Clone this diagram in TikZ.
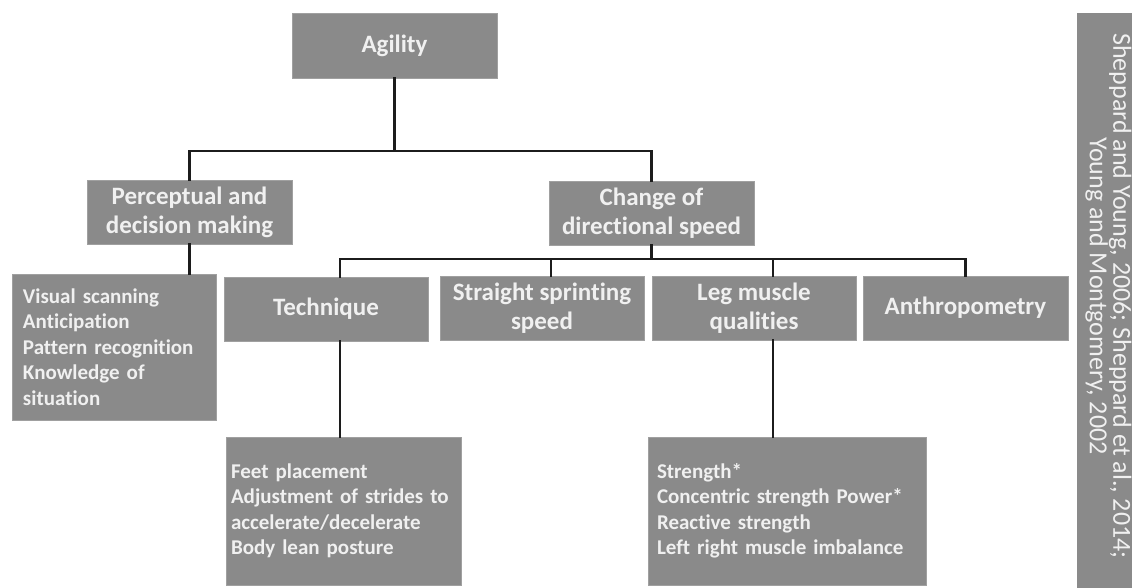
\documentclass[tikz,border=0pt]{standalone}
\usepackage{fontspec}
\setmainfont{Carlito}[Ligatures=CommonOff]
\definecolor{boxgray}{RGB}{138,138,138}
\definecolor{boxedge}{RGB}{160,160,160}
\definecolor{boxtext}{RGB}{240,240,240}
\definecolor{linecol}{RGB}{28,28,28}
\tikzset{
  box/.style={fill=boxgray, draw=boxedge, line width=0.6pt, text=boxtext,
    font=\bfseries\fontsize{25}{29}\selectfont, align=center, inner sep=0pt,
    minimum width=204, minimum height=64},
  listbox/.style={box, font=\bfseries\fontsize{21}{25.5}\selectfont, align=left},
  link/.style={draw=linecol, line width=2.3pt, line cap=rect}
}
\begin{document}
\begin{tikzpicture}[x=1pt,y=-1pt]
\useasboundingbox (0,0) rectangle (1132,588);
\fill[white] (0,0) rectangle (1132,588);

% top level
\node[box, minimum width=205, minimum height=65] (agility) at (394.5,45.5) {Agility};

% second level
\node[box, minimum width=205] (percep) at (189.5,212) {Perceptual and\\decision making};
\node[box, minimum width=205] (cods) at (651.5,213) {Change of\\directional speed};

% third level
\node[listbox, minimum height=146, text width=182, inner xsep=11] (visual) at (114,347)
  {Visual scanning\\Anticipation\\Pattern recognition\\Knowledge of\\situation};
\node[box] (technique) at (326,309) {Technique};
\node[box] (straight) at (542,308) {Straight sprinting\\speed};
\node[box] (leg) at (754,308) {Leg muscle\\qualities};
\node[box, minimum width=205] (anthro) at (965.5,308) {Anthropometry};

% fourth level
\node[listbox, minimum height=148, text width=225, inner xsep=5] (feet) at (343.5,511)
  {Feet placement\\Adjustment of strides to\\accelerate/decelerate\\Body lean posture};
\node[listbox, minimum height=148, text width=260, inner xsep=9] (strength) at (787,511)
  {Strength*\\Concentric strength Power*\\Reactive strength\\Left right muscle imbalance};

% source panel
\fill[boxgray] (1077,13) rectangle (1132,588);
\node[rotate=-90, text=boxtext, align=center, inner sep=0pt,
      font=\fontsize{26}{20}\selectfont] (source) at (1108.5,296)
  {Sheppard and Young, 2006; Sheppard et al., 2014;\\Young and Montgomery, 2002};

% junction points and stems
\coordinate (j1) at (393,151);
\coordinate (j2) at (652,259);
\coordinate (ts) at ([xshift=14]technique.north);
\coordinate (ss) at ([xshift=9]straight.north);
\coordinate (ls) at ([xshift=19]leg.north);

% connectors
\draw[link] (agility.south) -- (agility.south |- j1);
\draw[link] (percep.north) |- (j1) -| (cods.north);
\draw[link] (percep.south) -- (percep.south |- visual.north);
\draw[link] (cods.south) -- (cods.south |- j2);
\draw[link] (ts) |- (j2) -| (anthro.north);
\draw[link] (ss) -- (ss |- j2);
\draw[link] (ls) -- (ls |- j2);
\draw[link] (ts |- technique.south) -- (ts |- feet.north);
\draw[link] (ls |- leg.south) -- (ls |- strength.north);
\end{tikzpicture}
\end{document}
